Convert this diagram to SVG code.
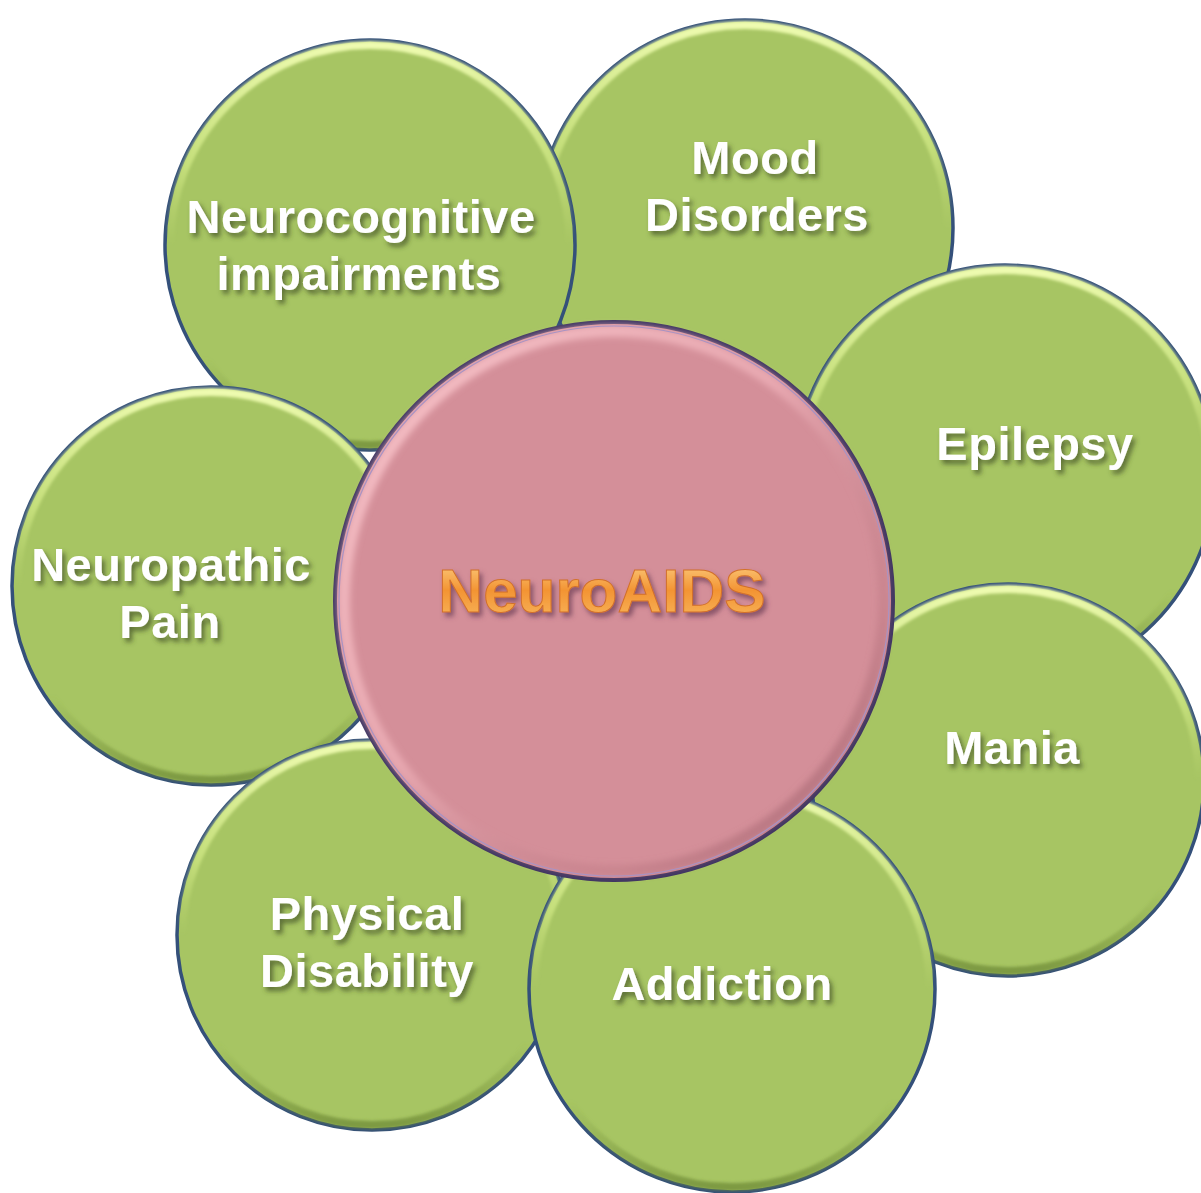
<svg xmlns="http://www.w3.org/2000/svg" width="1201" height="1193" viewBox="0 0 1201 1193">
  <style>
    .disc { fill: #a7c563; stroke: #34507a; stroke-width: 3.5; }
    .bevel { fill: none; stroke: url(#bevelGreen); stroke-width: 8; filter: url(#soft); }
    .hub { fill: #d48f99; stroke: #3e3562; stroke-width: 4; }
    .hubInner { fill: none; stroke: #a893c4; stroke-width: 1.2; }
    .hubBevel { fill: none; stroke: url(#bevelPink); stroke-width: 12; filter: url(#soft2); }
    .label { font-family: "Liberation Sans", Arial, sans-serif; font-weight: bold; font-size: 47px; letter-spacing: 0.5px; fill: #ffffff; text-anchor: middle; filter: url(#textShadow); }
    .title { font-family: "Liberation Sans", Arial, sans-serif; font-weight: bold; font-size: 62px; fill: url(#gold); stroke: #d2702a; stroke-width: 1; text-anchor: middle; filter: url(#titleShadow); }
  </style>
  <defs>
    <linearGradient id="bevelGreen" x1="0" y1="0" x2="0" y2="1">
      <stop offset="0" stop-color="#eefbb0" stop-opacity="1"/>
      <stop offset="0.3" stop-color="#d2ea86" stop-opacity="0.7"/>
      <stop offset="0.5" stop-color="#c0da74" stop-opacity="0"/>
      <stop offset="0.78" stop-color="#7f9c40" stop-opacity="0"/>
      <stop offset="1" stop-color="#6a8632" stop-opacity="0.7"/>
    </linearGradient>
    <linearGradient id="bevelPink" x1="0" y1="0" x2="1" y2="1">
      <stop offset="0" stop-color="#f8c4ca" stop-opacity="1"/>
      <stop offset="0.45" stop-color="#eeb0b8" stop-opacity="0.75"/>
      <stop offset="0.75" stop-color="#b8737e" stop-opacity="0.35"/>
      <stop offset="1" stop-color="#8e5562" stop-opacity="0.85"/>
    </linearGradient>
    <linearGradient id="gold" x1="0" y1="0" x2="0" y2="1">
      <stop offset="0" stop-color="#fdd58a"/>
      <stop offset="0.5" stop-color="#f39433"/>
      <stop offset="1" stop-color="#f8b960"/>
    </linearGradient>
    <filter id="soft" x="-10%" y="-10%" width="120%" height="120%">
      <feGaussianBlur stdDeviation="1.8"/>
    </filter>
    <filter id="soft2" x="-10%" y="-10%" width="120%" height="120%">
      <feGaussianBlur stdDeviation="3"/>
    </filter>
    <filter id="textShadow" x="-10%" y="-20%" width="130%" height="160%">
      <feDropShadow dx="3" dy="4" stdDeviation="2.5" flood-color="#3a4a22" flood-opacity="0.7"/>
    </filter>
    <filter id="titleShadow" x="-10%" y="-20%" width="130%" height="160%">
      <feDropShadow dx="3" dy="4" stdDeviation="2.5" flood-color="#6a3c55" flood-opacity="0.7"/>
    </filter>
  </defs>

  <rect width="1201" height="1193" fill="#ffffff"/>

  <!-- outer petals, drawn back to front -->
  <g id="node-mood">
    <circle class="disc" cx="745" cy="228" r="208"/>
    <circle class="bevel" cx="745" cy="228" r="203"/>
    <text class="label" x="755" y="174">Mood</text>
    <text class="label" x="757" y="231">Disorders</text>
  </g>
  <g id="node-neurocognitive">
    <circle class="disc" cx="370" cy="245" r="205"/>
    <circle class="bevel" cx="370" cy="245" r="200"/>
    <text class="label" x="361" y="233">Neurocognitive</text>
    <text class="label" x="359" y="290">impairments</text>
  </g>
  <g id="node-neuropathic">
    <circle class="disc" cx="211" cy="586" r="199"/>
    <circle class="bevel" cx="211" cy="586" r="194"/>
    <text class="label" x="171" y="581">Neuropathic</text>
    <text class="label" x="170" y="638">Pain</text>
  </g>
  <g id="node-physical">
    <circle class="disc" cx="372" cy="935" r="195"/>
    <circle class="bevel" cx="372" cy="935" r="190"/>
    <text class="label" x="367" y="930">Physical</text>
    <text class="label" x="367" y="987">Disability</text>
  </g>
  <g id="node-epilepsy">
    <circle class="disc" cx="1005" cy="475" r="210"/>
    <circle class="bevel" cx="1005" cy="475" r="205"/>
    <text class="label" x="1035" y="460">Epilepsy</text>
  </g>
  <g id="node-mania">
    <circle class="disc" cx="1008" cy="780" r="196"/>
    <circle class="bevel" cx="1008" cy="780" r="191"/>
    <text class="label" x="1012" y="764">Mania</text>
  </g>
  <g id="node-addiction">
    <circle class="disc" cx="732" cy="989" r="203"/>
    <circle class="bevel" cx="732" cy="989" r="198"/>
    <text class="label" x="722" y="1000">Addiction</text>
  </g>

  <!-- hub -->
  <g id="node-neuroaids">
    <circle class="hub" cx="614" cy="601" r="279"/>
    <circle class="hubBevel" cx="614" cy="601" r="270"/>
    <circle class="hubInner" cx="614" cy="601" r="275"/>
    <text class="title" x="602" y="612">NeuroAIDS</text>
  </g>

  <g id="connectors"/>
</svg>
